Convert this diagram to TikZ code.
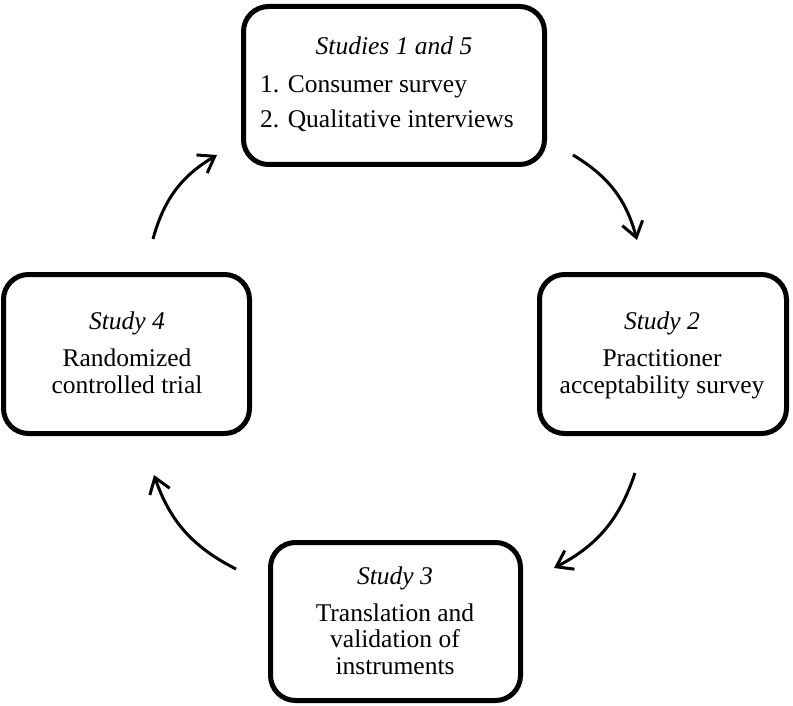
\documentclass[tikz,border=0pt]{standalone}
\usepackage{fontspec}
\setmainfont{Liberation Serif}
\usetikzlibrary{arrows.meta}
\begin{document}
\begin{tikzpicture}[x=1pt,y=1pt,
  stepbox/.style={draw=black,line width=5pt,rounded corners=25pt,inner sep=0pt},
  boxtext/.style={anchor=base,inner sep=0pt,font=\fontsize{25.5}{27}\selectfont,text height=17pt,text depth=5pt},
  cyclearrow/.style={line width=3pt,-{Straight Barb[length=15pt,width=21pt]},bend left=22}
]
\useasboundingbox (0,0) rectangle (793,-706);
% boxes
\node[stepbox,minimum width=301pt,minimum height=158pt] (top) at (394,-85.5) {};
\node[stepbox,minimum width=247pt,minimum height=159pt] (right) at (663,-354) {};
\node[stepbox,minimum width=246pt,minimum height=159pt] (left) at (126.5,-354) {};
\node[stepbox,minimum width=250pt,minimum height=158pt] (bottom) at (395.5,-621.5) {};
% texts top
\node[boxtext] (t1) at (394,-55) {\textit{Studies 1 and 5}};
\node[boxtext,anchor=base west] (t1a) at (260,-93) {1. Consumer survey};
\node[boxtext,anchor=base west] (t1b) at (260,-128) {2. Qualitative interviews};
% right
\node[boxtext] (t2) at (662,-329) {\textit{Study 2}};
\node[boxtext] (t2a) at (662,-366) {Practitioner};
\node[boxtext] (t2b) at (662,-393) {acceptability survey};
% left
\node[boxtext] (t4) at (127,-329) {\textit{Study 4}};
\node[boxtext] (t4a) at (127,-366) {Randomized};
\node[boxtext] (t4b) at (127,-393) {controlled trial};
% bottom
\node[boxtext] (t3) at (395,-584) {\textit{Study 3}};
\node[boxtext] (t3a) at (395,-621) {Translation and};
\node[boxtext] (t3b) at (395,-647) {validation of};
\node[boxtext] (t3c) at (395,-674) {instruments};
% arrow ends
\coordinate (a1s) at (153,-239);
\coordinate (a1e) at (217,-155);
\coordinate (a2s) at (573,-155);
\coordinate (a2e) at (637,-240);
\coordinate (a3s) at (635,-473);
\coordinate (a3e) at (554,-568);
\coordinate (a4s) at (236,-569);
\coordinate (a4e) at (154,-475);
\draw[cyclearrow] (a1s) to (a1e);
\draw[cyclearrow] (a2s) to (a2e);
\draw[cyclearrow] (a3s) to (a3e);
\draw[cyclearrow] (a4s) to (a4e);
\end{tikzpicture}
\end{document}
